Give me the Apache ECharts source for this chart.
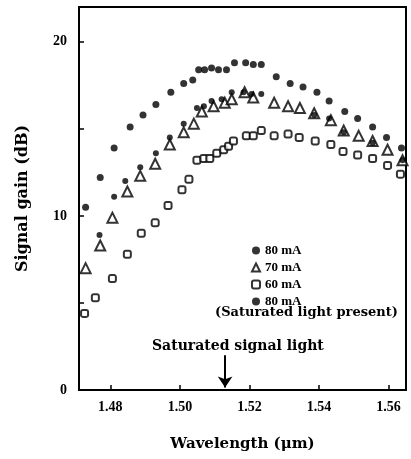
<!DOCTYPE html>
<html>
<head>
<meta charset="utf-8">
<script src="https://cdn.jsdelivr.net/npm/echarts@6/dist/echarts.min.js"></script>
<style>
  html, body { margin: 0; padding: 0; background: #fff; }
  #chart { width: 411px; height: 459px; }
</style>
</head>
<body>
<div id="chart"></div>
<script>
// wavelength (um), gain (dB)
var wl80 = [1.4729, 1.4771, 1.4811, 1.4857, 1.4894, 1.4931, 1.4974, 1.5011, 1.5037, 1.5054, 1.5071, 1.5091, 1.5111, 1.5134, 1.5157, 1.5189, 1.5211, 1.5234, 1.5277, 1.5317, 1.5354, 1.5394, 1.5429, 1.5474, 1.5511, 1.5554, 1.5594, 1.5637];
var gain80 = [10.5, 12.2, 13.9, 15.1, 15.8, 16.4, 17.1, 17.6, 17.8, 18.4, 18.4, 18.5, 18.4, 18.4, 18.8, 18.8, 18.7, 18.7, 18.0, 17.6, 17.4, 17.1, 16.6, 16.0, 15.6, 15.1, 14.5, 13.9];

var wl70 = [1.4729, 1.4771, 1.4806, 1.4849, 1.4886, 1.4929, 1.4971, 1.5011, 1.5040, 1.5063, 1.5097, 1.5129, 1.5149, 1.5186, 1.5211, 1.5271, 1.5311, 1.5345, 1.5386, 1.5434, 1.5471, 1.5514, 1.5554, 1.5597, 1.5640];
var gain70 = [7.0, 8.3, 9.9, 11.4, 12.3, 13.0, 14.1, 14.8, 15.3, 16.0, 16.3, 16.5, 16.7, 17.1, 16.8, 16.5, 16.3, 16.2, 15.9, 15.5, 14.9, 14.6, 14.3, 13.8, 13.2];

var wl60 = [1.4726, 1.4757, 1.4806, 1.4849, 1.4889, 1.4929, 1.4966, 1.5006, 1.5026, 1.5049, 1.5069, 1.5086, 1.5106, 1.5126, 1.5140, 1.5154, 1.5191, 1.5211, 1.5234, 1.5271, 1.5311, 1.5343, 1.5389, 1.5434, 1.5469, 1.5511, 1.5554, 1.5597, 1.5634];
var gain60 = [4.4, 5.3, 6.4, 7.8, 9.0, 9.6, 10.6, 11.5, 12.1, 13.2, 13.3, 13.3, 13.6, 13.8, 14.0, 14.3, 14.6, 14.6, 14.9, 14.6, 14.7, 14.5, 14.3, 14.1, 13.7, 13.5, 13.3, 12.9, 12.4];

var wlSat = [1.4769, 1.4811, 1.4843, 1.4886, 1.4931, 1.4971, 1.5011, 1.5049, 1.5069, 1.5091, 1.5120, 1.5149, 1.5183, 1.5206, 1.5234, 1.5386, 1.5429, 1.5471, 1.5554, 1.5640];
var gainSat = [8.9, 11.1, 12.0, 12.8, 13.6, 14.5, 15.3, 16.2, 16.3, 16.6, 16.7, 17.1, 17.1, 17.0, 17.0, 15.8, 15.6, 14.8, 14.2, 13.2];

var xTicks = [1.48, 1.50, 1.52, 1.54, 1.56];
var yTicks = [0, 5, 10, 15, 20];
var yLabels = [0, 10, 20];
var signalWl = 1.513;

function pairs(xs, ys) {
  var out = [];
  for (var i = 0; i < xs.length; i++) out.push([xs[i], ys[i]]);
  return out;
}

var font = 'Liberation Serif';
var wide = 'DejaVu Serif';
var chart = echarts.init(document.getElementById('chart'));
var option = {
  animation: false,
  backgroundColor: '#fff',
  grid: {
    left: 79, right: 5, top: 7, bottom: 69,
    show: true, borderColor: '#000', borderWidth: 2
  },
  legend: {
    orient: 'vertical',
    left: 246, top: 239,
    itemWidth: 8, itemHeight: 8, itemGap: 4,
    textStyle: { fontFamily: font, fontWeight: 'bold', fontSize: 13, color: '#000' },
    data: ['80 mA', '70 mA', '60 mA', '80 mA ']
  },
  xAxis: {
    type: 'value',
    min: 1.471, max: 1.565,
    splitLine: { show: false },
    axisLine: { lineStyle: { color: '#000', width: 2 } },
    axisTick: { inside: true, length: 5, customValues: xTicks, lineStyle: { color: '#000', width: 1.5 } },
    axisLabel: {
      customValues: xTicks, margin: 10,
      fontFamily: font, fontWeight: 'bold', fontSize: 14, color: '#000',
      formatter: function (v) { return v.toFixed(2); }
    },
    name: 'Wavelength (μm)',
    nameLocation: 'middle', nameGap: 47,
    nameTextStyle: { fontFamily: wide, fontWeight: 'bold', fontSize: 15, color: '#000' }
  },
  yAxis: {
    type: 'value',
    min: 0, max: 22,
    splitLine: { show: false },
    axisLine: { lineStyle: { color: '#000', width: 2 } },
    axisTick: { inside: true, length: 5, customValues: yTicks, lineStyle: { color: '#000', width: 1.5 } },
    axisLabel: {
      customValues: yLabels, margin: 12,
      fontFamily: font, fontWeight: 'bold', fontSize: 14, color: '#000'
    },
    name: 'Signal gain (dB)',
    nameLocation: 'middle', nameGap: 48,
    nameTextStyle: { fontFamily: wide, fontWeight: 'bold', fontSize: 16, color: '#000' }
  },
  graphic: [
    {
      type: 'text', left: 215, top: 306,
      style: { text: '(Saturated light present)', font: 'bold 13px "DejaVu Serif"', fill: '#000' }
    },
    {
      type: 'text', left: 152, top: 339,
      style: { text: 'Saturated signal light', font: 'bold 14px "DejaVu Serif"', fill: '#000' }
    }
  ],
  series: [
    {
      name: '80 mA', type: 'scatter',
      data: pairs(wl80, gain80),
      symbol: 'circle', symbolSize: 7,
      itemStyle: { color: '#000' },
      markLine: {
        silent: true, symbol: ['none', 'arrow'], symbolSize: 11,
        lineStyle: { color: '#000', width: 2, type: 'solid' },
        label: { show: false },
        data: [[{ coord: [signalWl, 2.0] }, { coord: [signalWl, 0.15] }]]
      }
    },
    {
      name: '70 mA', type: 'scatter',
      data: pairs(wl70, gain70),
      symbol: 'triangle', symbolSize: 10,
      itemStyle: { color: '#fff', borderColor: '#000', borderWidth: 2 }
    },
    {
      name: '60 mA', type: 'scatter',
      data: pairs(wl60, gain60),
      symbol: 'roundRect', symbolSize: 7,
      itemStyle: { color: '#fff', borderColor: '#000', borderWidth: 2 }
    },
    {
      name: '80 mA ', type: 'scatter',
      data: pairs(wlSat, gainSat),
      symbol: 'circle', symbolSize: 6,
      itemStyle: { color: '#000' }
    }
  ]
};
chart.setOption(option);
</script>
</body>
</html>
